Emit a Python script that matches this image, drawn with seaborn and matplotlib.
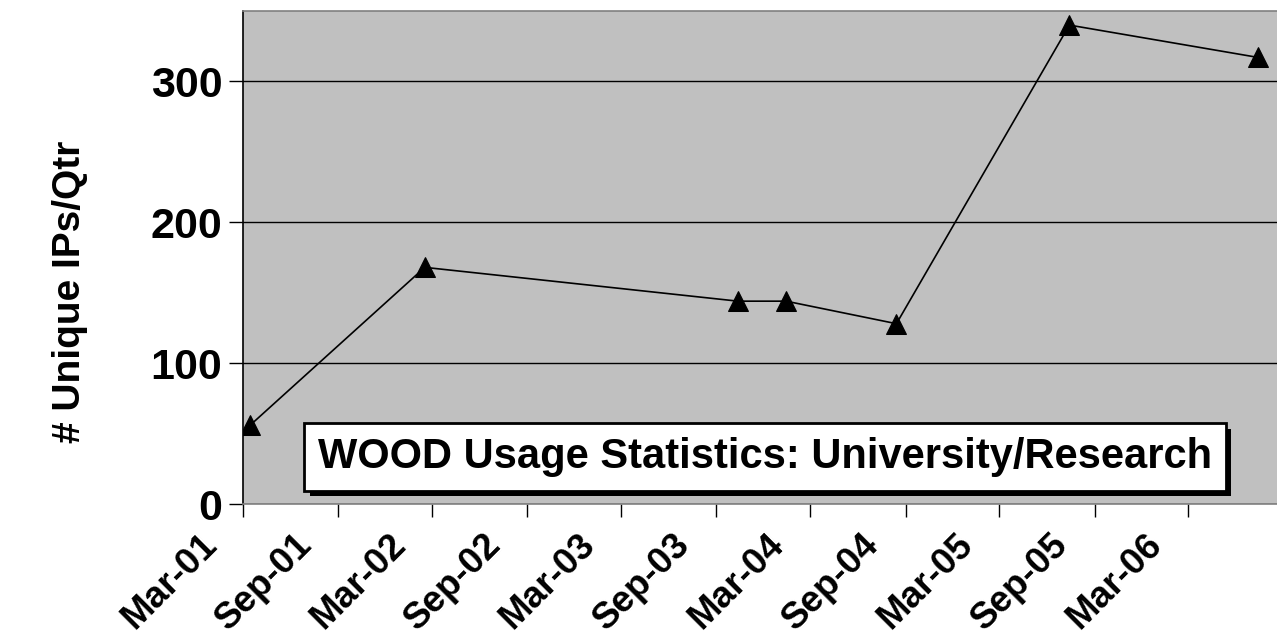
import numpy as np
import pandas as pd
import matplotlib
matplotlib.use('Agg')
import matplotlib.pyplot as plt
import matplotlib.dates as mdates
import matplotlib.transforms as mtransforms
import matplotlib.patheffects as pe
import seaborn as sns

# ── Data ─────────────────────────────────────────────────────
dates = ['2001-03-15', '2002-02-15', '2003-10-13', '2004-01-14',
         '2004-08-14', '2005-07-14', '2006-07-14']
unique_ips = [56, 168, 144, 144, 128, 340, 317]
title_text = 'WOOD Usage Statistics: University/Research'
y_label = '# Unique IPs/Qtr'

df = pd.DataFrame({'date': pd.to_datetime(dates), 'ips': unique_ips})

# ── Style ────────────────────────────────────────────────────
sns.set_theme(style='white')
plt.rcParams['font.family'] = ['Liberation Sans', 'DejaVu Sans']
plt.rcParams['font.weight'] = 'bold'
for key in ['text.color', 'axes.labelcolor', 'xtick.color', 'ytick.color']:
    plt.rcParams[key] = 'black'

fig = plt.figure(figsize=(12.77, 6.43), dpi=100)
ax = fig.add_axes([243 / 1277, 1 - 504 / 643, 1034 / 1277, 493 / 643])
ax.set_facecolor('#C0C0C0')

sns.lineplot(data=df, x='date', y='ips', ax=ax, color='black', lw=1.2,
             marker='^', markersize=14, markeredgecolor='black',
             markerfacecolor='black')

ax.set_ylim(0, 350)
ax.set_xlim(pd.Timestamp('2001-03-01'), pd.Timestamp('2006-08-19'))
ax.set_yticks([0, 100, 200, 300])
ax.yaxis.grid(True, color='black', lw=1)
ax.xaxis.grid(False)

ax.xaxis.set_major_locator(mdates.MonthLocator(bymonth=[3, 9], bymonthday=1))
ax.xaxis.set_major_formatter(mdates.DateFormatter('%b-%y'))

ax.tick_params(axis='y', direction='out', length=10, width=1, color='black',
               labelsize=31, pad=5, left=True)
ax.tick_params(axis='x', direction='out', length=9, width=1, color='black',
               labelsize=26.5, pad=4, bottom=True)

# Excel-style placement: rotated labels sit down-left of their ticks
shift = mtransforms.ScaledTranslation(-44 / 100, -5 / 100, fig.dpi_scale_trans)
for lab in ax.get_xticklabels():
    lab.set_rotation(45)
    lab.set_ha('right')
    lab.set_rotation_mode('anchor')
    lab.set_fontweight('bold')
    lab.set_transform(lab.get_transform() + shift)
for lab in ax.get_yticklabels():
    lab.set_fontweight('bold')

ax.set_xlabel('')
ax.set_ylabel(y_label, fontsize=28, fontweight='bold')
ax.yaxis.set_label_coords(-0.15, 0.43)

ax.spines['left'].set_color('black')
ax.spines['bottom'].set_color('#808080')
ax.spines['top'].set_color('#808080')
ax.spines['right'].set_visible(False)
for s in ax.spines.values():
    s.set_linewidth(1.2)

# ── Title box with drop shadow ───────────────────────────────
bx, by = (765 - 243) / 1034, (504 - 457) / 493
box = ax.text(bx, by, title_text, transform=ax.transAxes, color='black',
              ha='center', va='center', fontsize=30, fontweight='bold',
              bbox=dict(boxstyle='square,pad=0.33', fc='white', ec='black', lw=2),
              zorder=6)
box.get_bbox_patch().set_path_effects([
    pe.SimplePatchShadow(offset=(4, -4), shadow_rgbFace='black', alpha=1.0),
    pe.Normal(),
])

plt.savefig('out.png', dpi=100)
